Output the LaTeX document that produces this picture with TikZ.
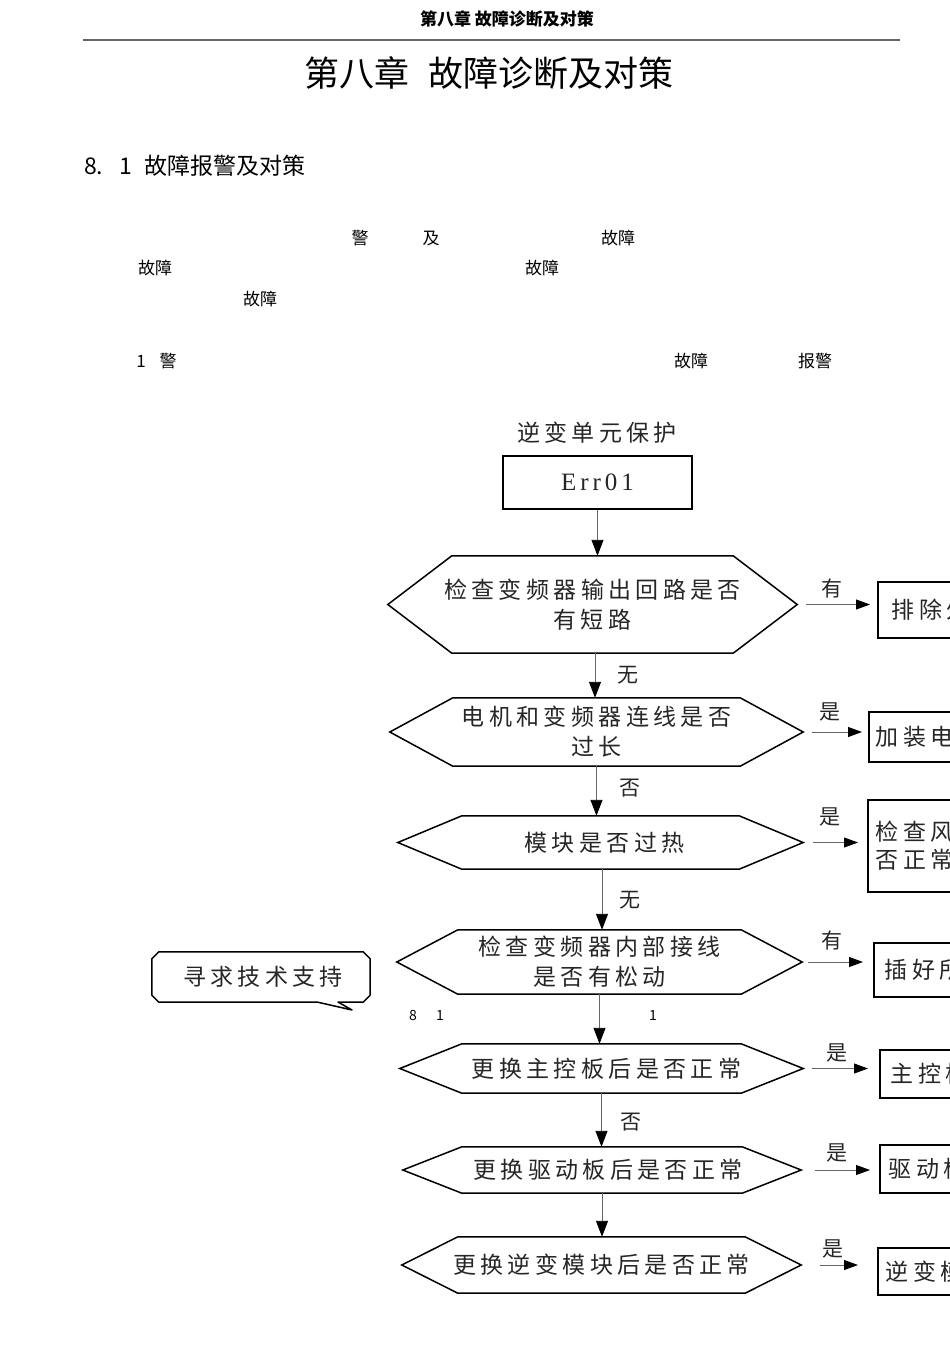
\documentclass[tikz,border=0pt]{standalone}
\usepackage{fontspec}
\setmainfont{Noto Sans CJK SC}
\newfontfamily\cjk{Noto Sans CJK SC}
\newfontfamily\cjkls[LetterSpace=19]{Noto Sans CJK SC}
\newfontfamily\errfont[LetterSpace=16]{Liberation Serif}
\usetikzlibrary{arrows.meta,calc}
\newcommand\hexdraw[2]{%
  \draw[hexline] (#1.west) -- ([xshift=#2]#1.north west) -- ([xshift=-#2]#1.north east)
    -- (#1.east) -- ([xshift=-#2]#1.south east) -- ([xshift=#2]#1.south west) -- cycle;}
\begin{document}
\begin{tikzpicture}[x=1pt,y=-1pt,
  hexbox/.style={draw=none, inner sep=0pt, align=center,
    font=\cjkls\fontsize{23}{30}\selectfont, text=black!85},
  hexline/.style={draw=black, line width=1.5pt, line join=miter},
  lbl/.style={font=\cjk\fontsize{21}{21}\selectfont, text=black!85, inner sep=0pt},
  conn/.style={draw=black!60, line width=0.9pt, -{Triangle[length=16pt,width=12pt,color=black]}},
  hconn/.style={draw=black!60, line width=0.9pt, -{Triangle[length=14pt,width=10pt,color=black]}},
  rbox/.style={draw=black, line width=1.5pt, anchor=west, align=left, inner ysep=0pt,
    font=\cjkls\fontsize{23}{28}\selectfont, text=black!85},
  frag/.style={font=\cjk\fontsize{17}{17}\selectfont, inner sep=0pt},
  small/.style={font=\cjk\fontsize{14}{14}\selectfont, inner sep=0pt},
]
\useasboundingbox (0,0) rectangle (950,1345);
\fill[white] (0,0) rectangle (950,1345);

% page header
\node[font=\cjk\fontsize{17}{17}\selectfont\bfseries, inner sep=0pt] (hdr) at (507,19) {第八章 故障诊断及对策};
\coordinate (rl) at (83,40);
\coordinate (rr) at (900,40);
\draw[draw=black!60, line width=2pt] (rl) -- (rr);
\node[font=\cjk\fontsize{35}{35}\selectfont, inner sep=0pt, anchor=west] (titleA) at (304,73) {第八章};
\node[font=\cjk\fontsize{35}{35}\selectfont, inner sep=0pt, anchor=east] (titleB) at (674,73) {故障诊断及对策};

% section heading
\node[font=\cjk\fontsize{23}{23}\selectfont, inner sep=0pt, anchor=west] (s8) at (84,166) {8.};
\node[font=\cjk\fontsize{23}{23}\selectfont, inner sep=0pt, anchor=west] (s1) at (119,166) {1};
\node[font=\cjk\fontsize{23}{23}\selectfont, inner sep=0pt, anchor=west] (stxt) at (144,166) {故障报警及对策};

% paragraph fragments
\node[frag] (f1) at (360,238) {警};
\node[frag] (f2) at (431,238) {及};
\node[frag] (f3) at (618,238) {故障};
\node[frag] (f4) at (155,268) {故障};
\node[frag] (f5) at (542,268) {故障};
\node[frag] (f6) at (260,299) {故障};
\node[frag] (f7) at (141,361) {1};
\node[frag] (f8) at (168,361) {警};
\node[frag] (f9) at (691,361) {故障};
\node[frag] (f10) at (815,361) {报警};

% flowchart
\node[hexbox] (head) at (597,433) {逆变单元保护};
\node[draw=black, line width=1.5pt, minimum width=189pt, minimum height=53pt, inner sep=0pt,
  font=\errfont\fontsize{25}{25}\selectfont, text=black!85] (err) at (597.5,482.5) {Err01};

\node[hexbox, minimum width=409pt, minimum height=97pt] (h1) at (592.5,604.5) {检查变频器输出回路是否\\有短路};
\hexdraw{h1}{64}
\node[hexbox, minimum width=413pt, minimum height=68pt] (h2) at (596.5,732) {电机和变频器连线是否\\过长};
\hexdraw{h2}{63}
\node[hexbox, minimum width=405pt, minimum height=53pt] (h3) at (600.5,842.5) {\hspace*{8pt}模块是否过热};
\hexdraw{h3}{64}
\node[hexbox, minimum width=405pt, minimum height=64pt] (h4) at (599.5,962) {检查变频器内部接线\\是否有松动};
\hexdraw{h4}{61}
\node[hexbox, minimum width=403pt, minimum height=49pt] (h5) at (601.5,1068.5) {\hspace*{10pt}更换主控板后是否正常};
\hexdraw{h5}{62}
\node[hexbox, minimum width=398pt, minimum height=46pt] (h6) at (602,1170) {\hspace*{12pt}更换驱动板后是否正常};
\hexdraw{h6}{59}
\node[hexbox, minimum width=399pt, minimum height=56pt] (h7) at (601.5,1265) {更换逆变模块后是否正常};
\hexdraw{h7}{56}

% vertical connectors
\draw[conn] (err.south) -- (err.south |- h1.north);
\draw[conn] ([xshift=2.5]h1.south) -- ([xshift=2.5]h1.south |- h2.north);
\draw[conn] (h2.south) -- (h2.south |- h3.north);
\draw[conn] ([xshift=1.5]h3.south) -- ([xshift=1.5]h3.south |- h4.north);
\draw[conn] (h4.south) -- (h4.south |- h5.north);
\draw[conn] (h5.south) -- (h5.south |- h6.north);
\draw[conn] (h6.south) -- (h6.south |- h7.north);

% vertical labels
\node[lbl] (l1) at (628,675) {无};
\node[lbl] (l2) at (630,788) {否};
\node[lbl] (l3) at (630,900) {无};
\node[lbl] (l4) at (631,1122) {否};

% help callout
\node[font=\cjkls\fontsize{23}{23}\selectfont, text=black!85, inner sep=0pt,
  minimum width=218pt, minimum height=50pt] (help) at (261,977) {\hspace*{4pt}寻求技术支持};
\coordinate (tailA) at (338,1002);
\coordinate (tailTip) at (352,1010);
\coordinate (tailB) at (317,1002);
\draw[line width=1.5pt, line join=round] ([yshift=-7]help.north west) -- ([xshift=7]help.north west)
  -- ([xshift=-7]help.north east) -- ([yshift=-7]help.north east)
  -- ([yshift=7]help.south east) -- ([xshift=-7]help.south east)
  -- (tailA) -- (tailTip) -- (tailB)
  -- ([xshift=7]help.south west) -- ([yshift=7]help.south west) -- cycle;

\node[small] (n8) at (413,1015) {8};
\node[small] (n1) at (440,1015) {1};
\node[small] (n1b) at (653,1015) {1};

% right side (boxes run past the page edge, as in the reference)
\begin{scope}
\clip (0,0) rectangle (950,1345);
\node[rbox, minimum height=56pt, inner xsep=14pt] (b1) at (877,610) {排除外部故障};
\node[rbox, minimum height=50pt, inner xsep=7pt] (b2) at (868,737) {加装电抗器};
\node[rbox, minimum height=92pt, inner xsep=8pt] (b3) at (867,846) {检查风扇是\\否正常};
\node[rbox, minimum height=54pt, inner xsep=11pt] (b4) at (873,970) {插好所有连线};
\node[rbox, minimum height=48pt, inner xsep=11pt] (b5) at (879,1074) {主控板故障};
\node[rbox, minimum height=48pt, inner xsep=9pt] (b6) at (879,1169) {驱动板故障};
\node[rbox, minimum height=47pt, inner xsep=8pt] (b7) at (877,1271.5) {逆变模块故障};
\end{scope}

\draw[hconn, shorten <=9pt, shorten >=7pt] (h1.east) -- (h1.east -| b1.west);
\draw[hconn, shorten <=9pt, shorten >=6pt] (h2.east) -- (h2.east -| b2.west);
\draw[hconn, shorten <=10pt, shorten >=9pt] (h3.east) -- (h3.east -| b3.west);
\draw[hconn, shorten <=6pt, shorten >=10pt] (h4.east) -- (h4.east -| b4.west);
\draw[hconn, shorten <=9pt, shorten >=11pt] (h5.east) -- (h5.east -| b5.west);
\draw[hconn, shorten <=14pt, shorten >=9pt] (h6.east) -- (h6.east -| b6.west);
\draw[hconn, shorten <=19pt, shorten >=19pt] (h7.east) -- (h7.east -| b7.west);

\node[lbl] (r1) at (832,588) {有};
\node[lbl] (r2) at (830,712) {是};
\node[lbl] (r3) at (830,817) {是};
\node[lbl] (r4) at (832,940) {有};
\node[lbl] (r5) at (837,1053) {是};
\node[lbl] (r6) at (837,1153) {是};
\node[lbl] (r7) at (833,1249) {是};
\end{tikzpicture}
\end{document}
